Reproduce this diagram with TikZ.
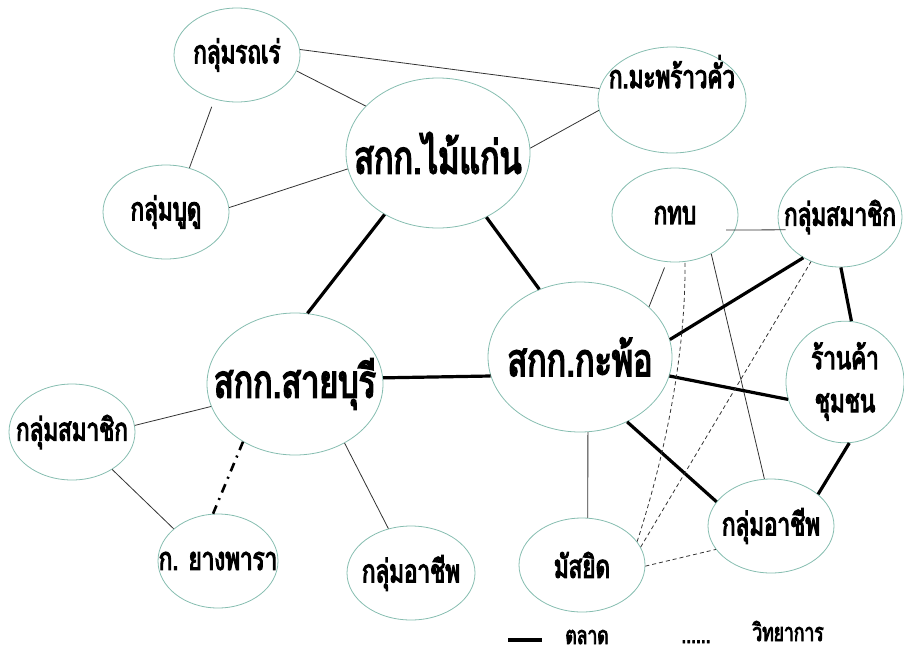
\documentclass[tikz,border=0pt]{standalone}
\usepackage{fontspec}
\usepackage{tikz}
\usetikzlibrary{shapes.geometric}
\newfontfamily\thaifont[Script=Thai, FakeStretch=0.7, FakeBold=3.5]{Loma}
\definecolor{ringteal}{HTML}{86BDB0}
\definecolor{inkgray}{HTML}{333333}
\newcommand\thlabel[1]{\makebox[0pt]{#1}}

\begin{document}
\begin{tikzpicture}[x=1pt, y=-1pt,
  grp/.style={ellipse, draw=ringteal, line width=0.8pt, inner sep=0pt,
    minimum width=126pt, minimum height=94pt,
    font=\thaifont\fontsize{32}{43}\selectfont},
  hub/.style={grp, minimum width=184pt, minimum height=150pt,
    font=\thaifont\fontsize{46}{48}\selectfont},
  link/.style={draw=inkgray, line width=0.8pt},
  market/.style={draw=black, line width=3.2pt},
  tech/.style={draw=inkgray, line width=0.8pt, dash pattern=on 4pt off 3pt},
  legend/.style={anchor=base, text depth=0pt, font=\thaifont\fontsize{25}{27}\selectfont},
]
  \useasboundingbox (0,0) rectangle (904,654);

  % hubs
  \node[hub] (maikaen) at (438,153) {\thlabel{สกก.ไม้แก่น}};
  \node[hub] (kapho) at (580,357) {\thlabel{สกก.กะพ้อ}};
  \node[hub, minimum width=176pt, minimum height=142pt] (saiburi) at (295,384) {\thlabel{สกก.สายบุรี}};

  % groups
  \node[grp] (rodrek) at (237,55) {\thlabel{กลุ่มรถเร่}};
  \node[grp] (budu) at (166,212) {\thlabel{กลุ่มบูดู}};
  \node[grp, minimum width=148pt, minimum height=106pt] (maprao) at (672,100)
    {\thlabel{\raisebox{12pt}[0pt][0pt]{ก.มะพร้าวคั่ว}}};
  \node[grp] (ktb) at (675,215) {\thlabel{กทบ}};
  \node[grp, minimum width=124pt, minimum height=100pt] (samR) at (840,217) {\thlabel{กลุ่มสมาชิก}};
  \node[grp, minimum width=118pt, minimum height=106pt] (shop) at (845,382)
    {\thlabel{\begin{tabular}{@{}c@{}}ร้านค้า\\ชุมชน\end{tabular}}};
  \node[grp, minimum height=96pt] (samL) at (72,432) {\thlabel{กลุ่มสมาชิก}};
  \node[grp, minimum width=120pt] (yang) at (218,561) {\thlabel{ก. ยางพารา}};
  \node[grp, minimum width=128pt] (achL) at (411,573) {\thlabel{กลุ่มอาชีพ}};
  \node[grp] (masjid) at (582,565) {\thlabel{มัสยิด}};
  \node[grp] (achR) at (771,526) {\thlabel{กลุ่มอาชีพ}};

  % thin links
  \draw[link] (rodrek.5) -- (maprao.171);
  \draw[link] (rodrek.-15) -- (maikaen.147);
  \draw[link, shorten <=8pt] (rodrek.-117) -- (budu.62);
  \draw[link] (budu.4) -- (maikaen.190);
  \draw[link] (maikaen.3) -- (maprao.188);
  \draw[link, shorten <=-9pt, shorten >=-6pt] (ktb.-14) -- (samR.192);
  \draw[link, shorten <=6pt] (ktb.-100) -- (kapho.36);
  \draw[link] (ktb.-47) -- (achR.98);
  \draw[link] (kapho.-84) -- (masjid.83);
  \draw[link] (saiburi.195) -- (samL.6);
  \draw[link] (samL.-43) -- (yang.144);
  \draw[link] (saiburi.-50) -- (achL.117);

  % market
  \draw[market] (maikaen.229) -- (saiburi.80);
  \draw[market] (maikaen.-53) -- (kapho.121);
  \draw[market] (saiburi.4) -- (kapho.192);
  \draw[market] (kapho.11) -- (samR.228);
  \draw[market] (samR.-89) -- (shop.84);
  \draw[market] (kapho.-12) -- (shop.197);
  \draw[market] (kapho.-54) -- (achR.156);
  \draw[market] (shop.-86) -- (achR.34);
  \draw[market, line width=2.6pt, dash pattern=on 9pt off 6pt on 2pt off 6pt] (saiburi.228) -- (yang.96);

  % technology
  \draw[tech] (masjid.23) .. controls (670,440) and (686,340) .. (ktb.-78);
  \draw[tech] (masjid.17) -- (samR.237);
  \draw[tech] (masjid.-1) -- (achR.203);

  % legend
  \coordinate (mkA) at (508,640);
  \coordinate (mkB) at (542,640);
  \draw[market] (mkA) -- (mkB);
  \node[legend] (mklbl) at (587,644) {ตลาด};
  \node[legend] (tkdots) at (696,643) {......};
  \node[legend] (tklbl) at (788,641) {วิทยาการ};
\end{tikzpicture}
\end{document}
